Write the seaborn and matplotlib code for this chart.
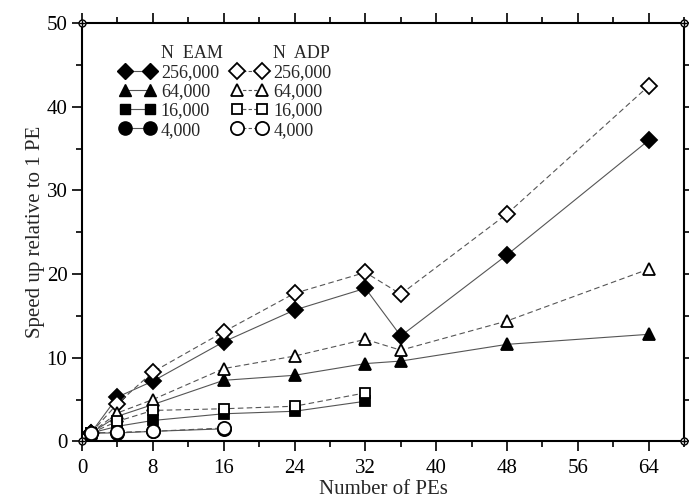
import matplotlib
matplotlib.use("Agg")
import matplotlib.pyplot as plt
from matplotlib.lines import Line2D
from matplotlib.ticker import MultipleLocator
import pandas as pd
import seaborn as sns

# data
pes_big = [1, 4, 8, 16, 24, 32, 36, 48, 64]
pes_small = [1, 4, 8, 16, 24, 32]
pes_tiny = [1, 4, 8, 16]

eam_256k = [1.0, 5.3, 7.2, 11.9, 15.7, 18.3, 12.6, 22.3, 36.0]
adp_256k = [1.0, 4.5, 8.3, 13.1, 17.7, 20.2, 17.6, 27.2, 42.5]
eam_64k = [1.0, 3.0, 4.4, 7.3, 7.9, 9.3, 9.6, 11.6, 12.8]
adp_64k = [1.0, 3.4, 5.0, 8.7, 10.2, 12.2, 10.9, 14.4, 20.6]
eam_16k = [1.0, 1.8, 2.5, 3.3, 3.6, 4.8]
adp_16k = [1.0, 2.4, 3.7, 3.9, 4.2, 5.8]
eam_4k = [1.0, 1.0, 1.2, 1.5]
adp_4k = [1.0, 1.1, 1.2, 1.6]

sizes = ["256,000", "64,000", "16,000", "4,000"]

sns.set_style("ticks")
plt.rcParams["font.family"] = ["Liberation Serif", "DejaVu Serif"]

fig = plt.figure(figsize=(6.89, 5.03), dpi=100)
ax = fig.add_axes([0.119, 0.1225, 0.874, 0.8315])

line_col = "#555555"
series = [
    # (x, y, marker, ms, filled, dashed)
    (pes_big, eam_256k, "D", 8, True, False),
    (pes_big, adp_256k, "D", 8, False, True),
    (pes_big, eam_64k, "^", 9, True, False),
    (pes_big, adp_64k, "^", 9, False, True),
    (pes_small, eam_16k, "s", 7.5, True, False),
    (pes_small, adp_16k, "s", 7.5, False, True),
    (pes_tiny, eam_4k, "o", 9.5, True, False),
    (pes_tiny, adp_4k, "o", 9.5, False, True),
]

for x, y, mk, ms, filled, dashed in series:
    df = pd.DataFrame({"pes": x, "speedup": y})
    sns.lineplot(data=df, x="pes", y="speedup", ax=ax, color=line_col, lw=0.8,
                 linestyle=(0, (5, 3)) if dashed else "-",
                 marker=mk, markersize=ms, markeredgewidth=1.3,
                 markerfacecolor="black" if filled else "white",
                 markeredgecolor="black", zorder=3)

ax.set_xlim(0, 68)
ax.set_ylim(0, 50)
ax.xaxis.set_major_locator(MultipleLocator(8))
ax.xaxis.set_minor_locator(MultipleLocator(4))
ax.yaxis.set_major_locator(MultipleLocator(10))
ax.yaxis.set_minor_locator(MultipleLocator(5))
ax.tick_params(which="both", direction="out", top=True, right=True, width=1.2,
               labelsize=15, color="black", labelcolor="black")
ax.tick_params(which="major", length=7)
ax.tick_params(which="minor", length=4)
ax.tick_params(axis="x", which="major", pad=6)
for sp in ax.spines.values():
    sp.set_linewidth(1.5)
    sp.set_color("black")

ax.set_xlabel("Number of PEs", fontsize=15, labelpad=1)
ax.set_ylabel("Speed up relative to 1 PE", fontsize=15, labelpad=1)

# small markers at the corners
for cx, cy in [(0, 0), (1, 0), (0, 1), (1, 1)]:
    ax.plot(cx, cy, marker="o", ms=5, mfc="white", mec="black", mew=1,
            transform=ax.transAxes, clip_on=False, zorder=5)
    ax.plot(cx, cy, marker="+", ms=5, mec="black", mew=1,
            transform=ax.transAxes, clip_on=False, zorder=6)

# legend: two columns with header rows
blank = Line2D([], [], linestyle="none")
handles, labels = [blank], ["N  EAM"]
for (x, y, mk, ms, filled, dashed), lab in zip(series[0::2], sizes):
    handles.append(Line2D([], [], color=line_col, lw=0.8, marker=mk, markersize=ms,
                          markerfacecolor="black", markeredgecolor="black"))
    labels.append(lab)
handles.append(blank)
labels.append("N  ADP")
for (x, y, mk, ms, filled, dashed), lab in zip(series[1::2], sizes):
    handles.append(Line2D([], [], color=line_col, lw=0.8, linestyle=(0, (3, 2)),
                          marker=mk, markersize=ms, markerfacecolor="white",
                          markeredgecolor="black", markeredgewidth=1.3))
    labels.append(lab)
ax.legend(handles, labels, ncol=2, numpoints=2, frameon=False, fontsize=13,
          loc="upper left", bbox_to_anchor=(0.05, 0.965), handlelength=2.0,
          handletextpad=0.3, columnspacing=0.5, labelspacing=0.12,
          borderaxespad=0)

fig.savefig("out.png", dpi=100)
